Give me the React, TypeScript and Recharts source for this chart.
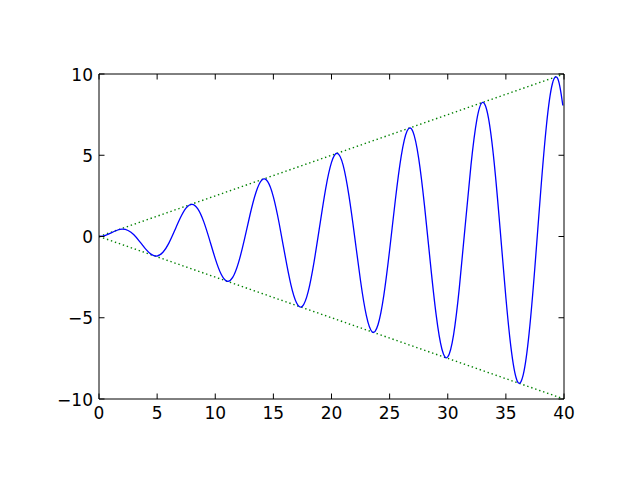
import React from "react";
import { LineChart, Line, XAxis, YAxis } from "recharts";

const xs = [
  0, 0.5, 1, 1.5, 2, 2.5, 3, 3.5, 4, 4.5, 5, 5.5, 6, 6.5, 7, 7.5, 8, 8.5, 9, 9.5,
  10, 10.5, 11, 11.5, 12, 12.5, 13, 13.5, 14, 14.5, 15, 15.5, 16, 16.5, 17, 17.5, 18, 18.5, 19, 19.5,
  20, 20.5, 21, 21.5, 22, 22.5, 23, 23.5, 24, 24.5, 25, 25.5, 26, 26.5, 27, 27.5, 28, 28.5, 29, 29.5,
  30, 30.5, 31, 31.5, 32, 32.5, 33, 33.5, 34, 34.5, 35, 35.5, 36, 36.5, 37, 37.5, 38, 38.5, 39, 39.5, 39.9,
];
const ys = [
  0, 0.06, 0.21, 0.37, 0.45, 0.37, 0.11, -0.31, -0.76, -1.1, -1.2, -0.97, -0.42, 0.35, 1.15, 1.76, 1.98, 1.7, 0.93, -0.18,
  -1.36, -2.31, -2.75, -2.52, -1.61, -0.21, 1.37, 2.71, 3.47, 3.39, 2.44, 0.8, -1.15, -2.94, -4.09, -4.29, -3.38, -1.56, 0.71, 2.95,
  4.56, 5.12, 4.39, 2.51, -0.05, -2.74, -4.87, -5.87, -5.43, -3.62, -0.83, 2.29, 4.96, 6.49, 6.46, 4.81, 1.9, -1.59, -4.81, -6.94,
  -7.41, -6.05, -3.13, 0.66, 4.41, 7.18, 8.25, 7.3, 4.5, 0.5, -3.75, -7.18, -8.93, -8.49, -5.95, -1.85, 2.82, 6.91, 9.4, 9.65, 8.06,
];

const envX = [0, 40];
const envUpper = [0, 10];
const envLower = [0, -10];

const xTicks = [0, 5, 10, 15, 20, 25, 30, 35, 40];
const yTicks = [-10, -5, 0, 5, 10];
const yTickLabels = ["\u221210", "\u22125", "0", "5", "10"];

const curveData = xs.map((x, i) => ({ x, y: ys[i] }));
const upperData = envX.map((x, i) => ({ x, y: envUpper[i] }));
const lowerData = envX.map((x, i) => ({ x, y: envLower[i] }));

const FONT = "DejaVu Sans";
const FS = 17;
const TL = 5.5;

const BottomTick = (props: any) => {
  const { x, y, payload } = props;
  return (
    <g>
      <line x1={x} y1={y} x2={x} y2={y - TL} stroke="#000" strokeWidth={1} />
      <text x={x} y={y + 20} textAnchor="middle" fontFamily={FONT} fontSize={FS} fill="#000">
        {String(payload.value)}
      </text>
    </g>
  );
};

const TopTick = (props: any) => {
  const { x, y } = props;
  return <line x1={x} y1={y} x2={x} y2={y + TL} stroke="#000" strokeWidth={1} />;
};

const LeftTick = (props: any) => {
  const { x, y, payload } = props;
  const idx = yTicks.indexOf(payload.value);
  const label = idx >= 0 ? yTickLabels[idx] : String(payload.value);
  return (
    <g>
      <line x1={x} y1={y} x2={x + TL} y2={y} stroke="#000" strokeWidth={1} />
      <text x={x - 6} y={y + 6.5} textAnchor="end" fontFamily={FONT} fontSize={FS} fill="#000">
        {label}
      </text>
    </g>
  );
};

const RightTick = (props: any) => {
  const { x, y } = props;
  return <line x1={x} y1={y} x2={x - TL} y2={y} stroke="#000" strokeWidth={1} />;
};

export default function App() {
  return (
    <div style={{ position: "absolute", left: 0, top: 0, width: 640, height: 480, background: "#fff" }}>
      <LineChart width={640} height={480} margin={{ top: 73, right: 75, bottom: 0, left: 0 }}>
        <XAxis
          xAxisId="b"
          dataKey="x"
          type="number"
          domain={[0, 40]}
          ticks={xTicks}
          interval={0}
          height={81}
          tickSize={0}
          tickMargin={0}
          tickLine={false}
          axisLine={{ stroke: "#000", strokeWidth: 1 }}
          tick={BottomTick}
          allowDataOverflow
        />
        <XAxis
          xAxisId="t"
          orientation="top"
          dataKey="x"
          type="number"
          domain={[0, 40]}
          ticks={xTicks}
          interval={0}
          height={1}
          tickSize={0}
          tickMargin={0}
          tickLine={false}
          axisLine={{ stroke: "#000", strokeWidth: 1 }}
          tick={TopTick}
          allowDataOverflow
        />
        <YAxis
          yAxisId="l"
          type="number"
          domain={[-10, 10]}
          ticks={yTicks}
          interval={0}
          width={99}
          tickSize={0}
          tickMargin={0}
          tickLine={false}
          axisLine={{ stroke: "#000", strokeWidth: 1 }}
          tick={LeftTick}
          allowDataOverflow
        />
        <YAxis
          yAxisId="r"
          orientation="right"
          type="number"
          domain={[-10, 10]}
          ticks={yTicks}
          interval={0}
          width={1}
          tickSize={0}
          tickMargin={0}
          tickLine={false}
          axisLine={{ stroke: "#000", strokeWidth: 1 }}
          tick={RightTick}
          allowDataOverflow
        />
        <Line
          xAxisId="b"
          yAxisId="l"
          data={upperData}
          dataKey="y"
          type="linear"
          stroke="#008000"
          strokeWidth={1.4}
          strokeDasharray="1.4 2.8"
          dot={false}
          activeDot={false}
          isAnimationActive={false}
        />
        <Line
          xAxisId="b"
          yAxisId="l"
          data={lowerData}
          dataKey="y"
          type="linear"
          stroke="#008000"
          strokeWidth={1.4}
          strokeDasharray="1.4 2.8"
          dot={false}
          activeDot={false}
          isAnimationActive={false}
        />
        <Line
          xAxisId="b"
          yAxisId="l"
          data={curveData}
          dataKey="y"
          type="natural"
          stroke="#0000ff"
          strokeWidth={1.3}
          dot={false}
          activeDot={false}
          isAnimationActive={false}
        />
      </LineChart>
    </div>
  );
}
